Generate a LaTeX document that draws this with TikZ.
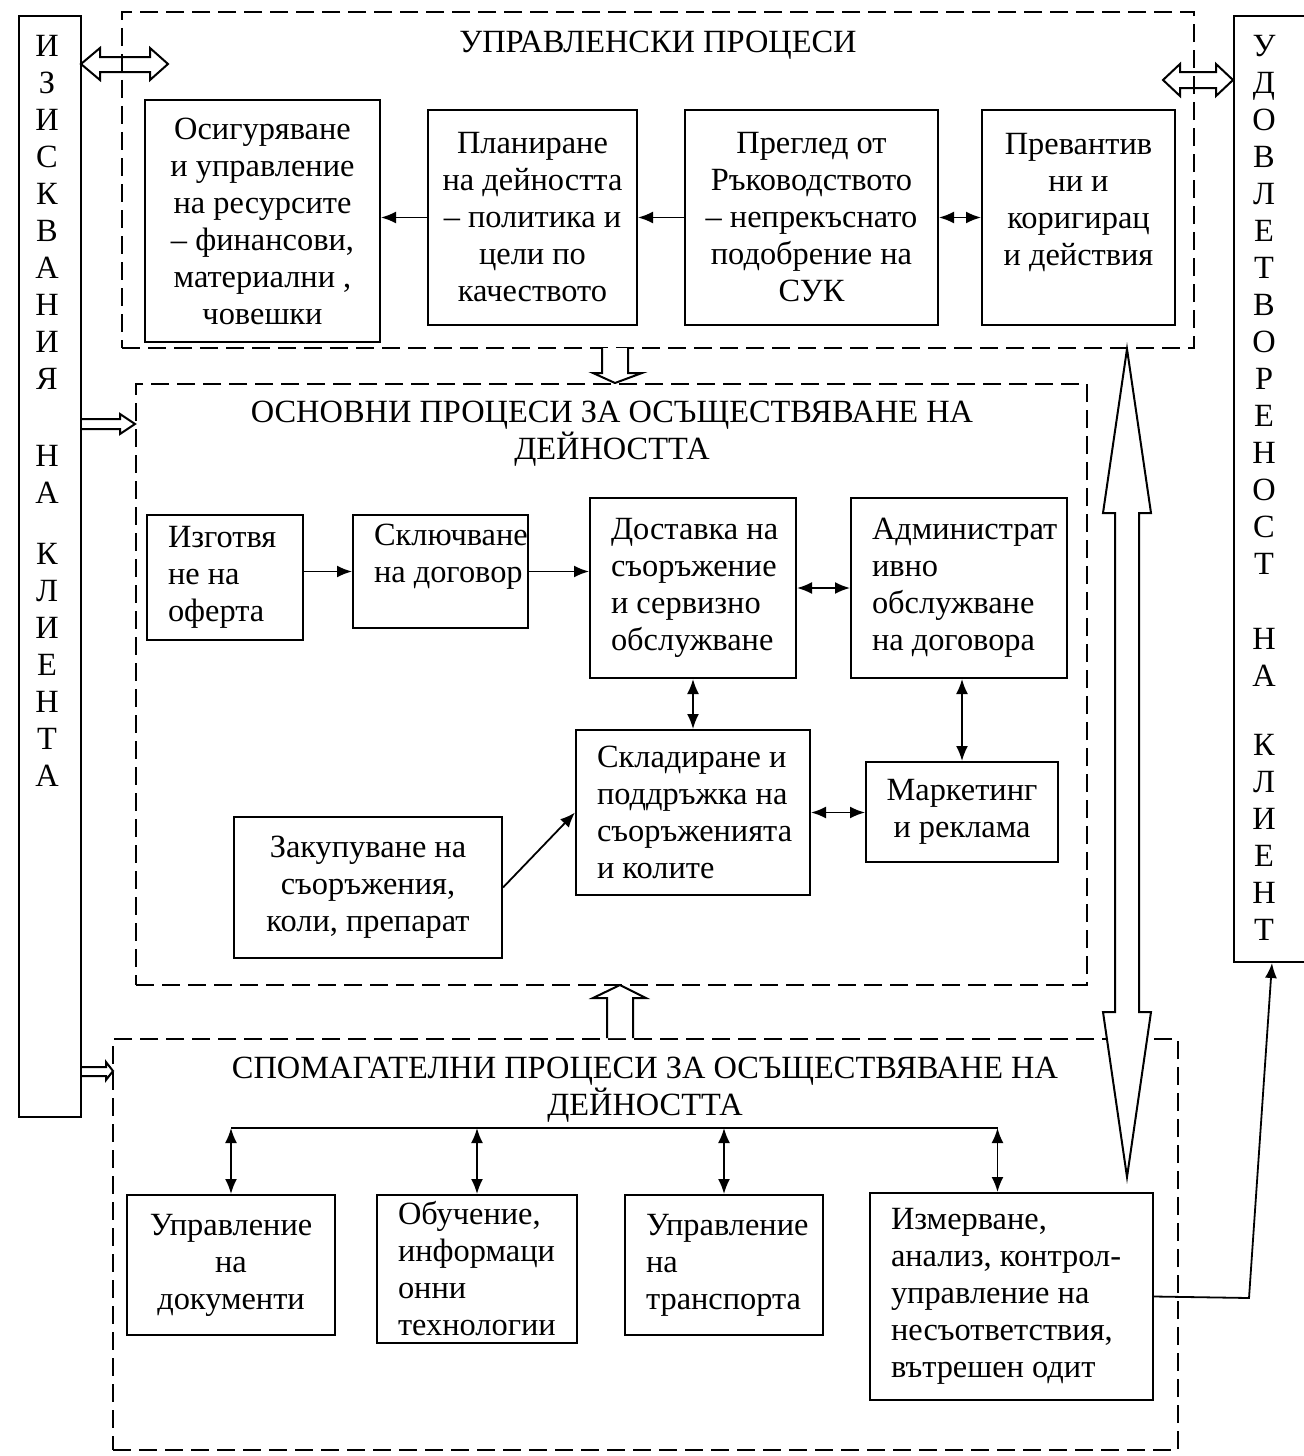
\documentclass[tikz,border=0pt]{standalone}
\usepackage{fontspec}
\setmainfont{Liberation Serif}
\usetikzlibrary{arrows.meta}

\tikzset{
  txt/.style={font=\fontsize{16.2}{18.5}\selectfont, inner sep=0pt},
  cbox/.style={txt, draw, line width=1pt, align=center},
  lbox/.style={txt, draw, line width=1pt, align=left,
    execute at begin node={\leftskip=10.5pt\spaceskip=0pt\xspaceskip=0pt}},
  frame/.style={draw, line width=0.9pt, dash pattern=on 9pt off 4pt, inner sep=0pt},
  hollow/.style={draw, line width=1pt, line join=miter},
  link/.style={line width=0.9pt},
  >={Latex[length=7.5pt,width=6pt]}
}

\begin{document}
\begin{tikzpicture}[x=0.5pt, y=-0.5pt]
  \useasboundingbox (0,0) rectangle (1304,1456);

  % Side boxes
  \node (req) at (50,566.5) [draw, line width=1pt, minimum width=31pt, minimum height=550.5pt] {};
  \node (reqtxt) at (47,35) [txt, anchor=north, align=center]
    {И\\З\\И\\С\\К\\В\\А\\Н\\И\\Я\\[20pt]Н\\А\\[12pt]К\\Л\\И\\Е\\Н\\Т\\А};
  \node (satis) at (1272,489) [draw, line width=1pt, minimum width=38pt, minimum height=473pt] {};
  \node (satistxt) at (1264,35) [txt, anchor=north, align=center]
    {У\\Д\\О\\В\\Л\\Е\\Т\\В\\О\\Р\\Е\\Н\\О\\С\\Т\\[19pt]Н\\А\\[16pt]К\\Л\\И\\Е\\Н\\Т};

  % Management processes
  \node (ctrl) at (658,180) [frame, minimum width=536pt, minimum height=168pt] {};
  \node (ctrltitle) at (658,31) [txt, anchor=north] {УПРАВЛЕНСКИ ПРОЦЕСИ};
  \node (res) at (262.5,221) [cbox, minimum width=117.5pt, minimum height=121pt]
    {Осигуряване\\и управление\\на ресурсите\\– финансови,\\материални ,\\човешки};
  \node (plan) at (532.5,217.5) [cbox, minimum width=104.5pt, minimum height=107.5pt]
    {Планиране\\на дейността\\– политика и\\цели по\\качеството};
  \node (review) at (811.5,217.5) [cbox, minimum width=126.5pt, minimum height=107.5pt]
    {Преглед от\\Ръководството\\– непрекъснато\\подобрение на\\СУК};
  \node (prev) at (1078.5,217.5) [cbox, minimum width=96.5pt, minimum height=107.5pt]
    {Превантив\\ни и\\коригирац\\и действия\\ \mbox{}};

  \draw[link, ->] (plan.west) -- (plan.west -| res.east);
  \draw[link, ->] (review.west) -- (review.west -| plan.east);
  \draw[link, <->] (review.east) -- (prev.west);

  % Main processes
  \node (core) at (611.5,684.5) [frame, minimum width=475.5pt, minimum height=300.5pt] {};
  \node (coretitle) at (612,401) [txt, anchor=north, align=center]
    {ОСНОВНИ ПРОЦЕСИ ЗА ОСЪЩЕСТВЯВАНЕ НА\\ДЕЙНОСТТА};
  \node (offer) at (225,577.5) [lbox, text width=78pt, minimum height=62.5pt]
    {Изготвя\\не на\\оферта};
  \node (contract) at (440.5,571.5) [lbox, text width=87.5pt, minimum height=56.5pt]
    {Сключване\\на договор\\ \mbox{}};
  \node (deliv) at (693,588) [lbox, text width=103pt, minimum height=90pt]
    {Доставка на\\съоръжение\\и сервизно\\обслужване};
  \node (admin) at (959,588) [lbox, text width=108pt, minimum height=90pt]
    {Администрат\\ивно\\обслужване\\на договора};
  \node (store) at (693,812.5) [lbox, text width=117pt, minimum height=82.5pt]
    {Складиране и\\поддръжка на\\съоръженията\\и колите};
  \node (mark) at (962,812) [cbox, minimum width=96pt, minimum height=50pt]
    {Маркетинг\\и реклама};
  \node (buy) at (368,887.5) [cbox, minimum width=134pt, minimum height=70.5pt]
    {Закупуване на\\съоръжения,\\коли, препарат};

  \draw[link, ->] (contract.west -| offer.east) -- (contract.west);
  \draw[link, ->] (contract.east) -- (contract.east -| deliv.west);
  \draw[link, <->] (deliv.east) -- (admin.west);
  \draw[link, <->] (deliv.south) -- (deliv.south |- store.north);
  \draw[link, <->] (mark.north |- admin.south) -- (mark.north);
  \draw[link, <->] (store.east) -- (store.east -| mark.west);
  \draw[link, ->] (buy.east) -- (store.west);

  % Support processes
  \node (aux) at (645.5,1244.5) [frame, minimum width=532.5pt, minimum height=205.5pt] {};
  \node (auxtitle) at (645,1057) [txt, anchor=north, align=center]
    {СПОМАГАТЕЛНИ ПРОЦЕСИ ЗА ОСЪЩЕСТВЯВАНЕ НА\\ДЕЙНОСТТА};
  \node (docs) at (231,1265) [cbox, minimum width=104pt, minimum height=70pt]
    {Управление\\на\\документи};
  \node (train) at (477,1269) [lbox, text width=100pt, minimum height=74pt]
    {Обучение,\\информаци\\онни\\технологии};
  \node (trans) at (724,1265) [lbox, text width=99pt, minimum height=70pt]
    {Управление\\на\\транспорта};
  \node (meas) at (1011.5,1296.5) [lbox, text width=141.5pt, minimum height=103.5pt]
    {Измерване,\\анализ, контрол-\\управление на\\несъответствия,\\вътрешен одит};

  \coordinate (bus) at (231,1128);
  \coordinate (measup) at ([xshift=-7pt]meas.north);
  \draw[link] (docs.north |- bus) -- (measup |- bus);
  \foreach \b in {docs,train,trans} {
    \draw[link, <->] (\b.north |- bus) -- (\b.north);
  }
  \draw[link, <->] (measup |- bus) -- (measup);

  \coordinate (turn) at (1249,1298);
  \draw[link, ->] (meas.east) -- (turn) -- (satis.south);

  % Hollow arrows
  \draw[hollow] (81,64) -- (100,48) -- (100,57) -- (150,57) -- (150,48) -- (168,64)
    -- (150,80) -- (150,72) -- (100,72) -- (100,80) -- cycle;
  \draw[hollow] (1163,80) -- (1180,64) -- (1180,72) -- (1216,72) -- (1216,64) -- (1233,80)
    -- (1216,96) -- (1216,88) -- (1180,88) -- (1180,96) -- cycle;
  \draw[hollow] (81,419) -- (120,419) -- (120,414) -- (135,424) -- (120,434) -- (120,429)
    -- (81,429);
  \draw[hollow] (81,1067) -- (106,1067) -- (106,1062) -- (113,1071) -- (106,1080) -- (106,1076)
    -- (81,1076);
  \draw[hollow, fill=white] (602,348) -- (602,373) -- (593,373) -- (615,383) -- (642,373)
    -- (628,373) -- (628,348);
  \draw[hollow, fill=white] (607,1038) -- (607,998) -- (593,998) -- (620,985) -- (646,998)
    -- (633,998) -- (633,1038);
  \draw[hollow, fill=white] (1127,349) -- (1151,513) -- (1139,513) -- (1139,1012) -- (1151,1012)
    -- (1127,1177) -- (1103,1012) -- (1115,1012) -- (1115,513) -- (1103,513) -- cycle;

\end{tikzpicture}
\end{document}
